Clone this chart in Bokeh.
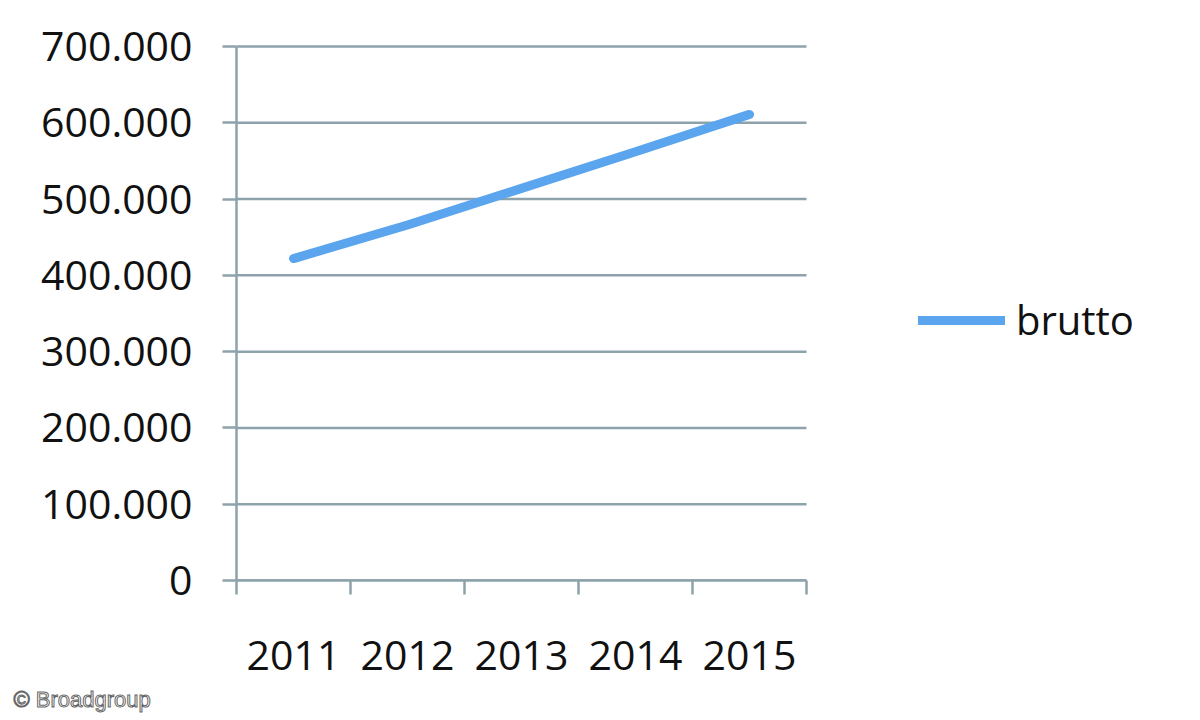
from bokeh.plotting import figure
from bokeh.models import Range1d, FixedTicker, Legend, LegendItem, Title
from bokeh.embed import file_html
from bokeh.resources import INLINE

# ---- data ----
years = ["2011", "2012", "2013", "2014", "2015"]
brutto = [422000, 466000, 514000, 562000, 611000]
y_ticks = [0, 100000, 200000, 300000, 400000, 500000, 600000, 700000]
y_tick_labels = ["0", "100.000", "200.000", "300.000", "400.000",
                 "500.000", "600.000", "700.000"]
series_name = "brutto"
credit = "© Broadgroup"

# ---- styles ----
FONT = "Open Sans"
GRID = "#8DA2AB"
LINE = "#5BA4EE"
TEXT = "#111111"
FS = "41px"

LEFT, TOP = 236, 40
FRAME_W, FRAME_H = 948, 540    # frame extends right to host the legend
PLOT_W = 570                   # width of the charted area (5 categories)
GRID_H = 534                   # height from 0 to top tick

n = len(years)
p = figure(frame_width=FRAME_W, frame_height=FRAME_H,
           output_backend="svg", toolbar_location=None,
           x_range=Range1d(0, n * FRAME_W / PLOT_W),
           y_range=Range1d(0, y_ticks[-1] * FRAME_H / GRID_H),
           min_border_left=LEFT, min_border_right=0,
           min_border_top=TOP, min_border_bottom=0)
p.outline_line_color = None
p.background_fill_color = "white"
p.border_fill_color = "white"

xs = [i + 0.5 for i in range(n)]

# x axis: labels at category centres, tick marks at category boundaries
p.xaxis.bounds = (0, n)
p.xaxis.ticker = FixedTicker(ticks=xs, minor_ticks=list(range(n + 1)))
p.xaxis.major_label_overrides = {x: y for x, y in zip(xs, years)}
p.xaxis.major_tick_line_color = None
p.xaxis.major_tick_out = 0
p.xaxis.major_tick_in = 0
p.xaxis.minor_tick_out = 14
p.xaxis.minor_tick_in = 0
p.xaxis.minor_tick_line_color = GRID
p.xaxis.minor_tick_line_width = 2.5
p.xaxis.axis_line_color = GRID
p.xaxis.axis_line_width = 2.5
p.xaxis.major_label_standoff = 46
p.xaxis.major_label_text_font = FONT
p.xaxis.major_label_text_font_size = FS
p.xaxis.major_label_text_color = TEXT

# y axis
p.yaxis.bounds = (0, y_ticks[-1])
p.yaxis.ticker = FixedTicker(ticks=y_ticks)
p.yaxis.major_label_overrides = {t: l for t, l in zip(y_ticks, y_tick_labels)}
p.yaxis.major_tick_out = 14
p.yaxis.major_tick_in = 0
p.yaxis.minor_tick_line_color = None
p.yaxis.major_tick_line_color = GRID
p.yaxis.major_tick_line_width = 2.5
p.yaxis.axis_line_color = GRID
p.yaxis.axis_line_width = 2.5
p.yaxis.major_label_standoff = 30
p.yaxis.major_label_text_font = FONT
p.yaxis.major_label_text_font_size = FS
p.yaxis.major_label_text_color = TEXT

# horizontal grid lines limited to the charted categories
p.xgrid.visible = False
p.ygrid.visible = False
p.segment(x0=[0] * len(y_ticks), x1=[n] * len(y_ticks), y0=y_ticks, y1=y_ticks,
          line_color=GRID, line_width=2.5)

r = p.line(xs, brutto, line_width=9, line_color=LINE, line_cap="round",
           line_join="round")

legend = Legend(items=[LegendItem(label=series_name, renderers=[r])],
                location=(682, 233), orientation="vertical",
                glyph_width=87, glyph_height=40, label_height=40,
                label_standoff=11, padding=0, margin=0, spacing=0,
                border_line_color=None, background_fill_alpha=0,
                label_text_font=FONT, label_text_font_size="40px",
                label_text_color=TEXT, label_text_baseline="middle")
p.add_layout(legend, "center")

p.add_layout(Title(text=credit, align="left", offset=-223, standoff=25,
                   text_font="Liberation Sans", text_font_size="22px",
                   text_font_style="normal", text_color="white",
                   text_outline_color="#666666"), "below")

open("out.html", "w").write(file_html(p, INLINE))
